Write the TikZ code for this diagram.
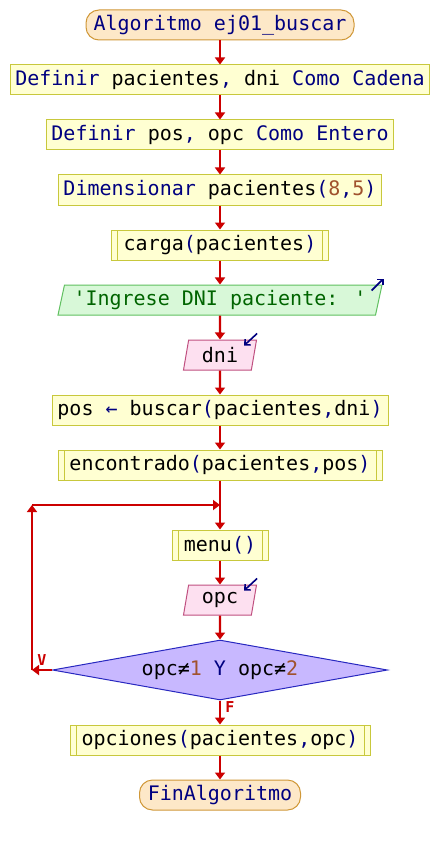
\documentclass[tikz,border=0pt]{standalone}
\usepackage{fontspec}
\newfontfamily\pf{DejaVu Sans Mono}
\usetikzlibrary{shapes.geometric,arrows.meta,calc}
\definecolor{kw}{HTML}{000080}
\definecolor{num}{HTML}{A0522D}
\definecolor{str}{HTML}{006400}
\definecolor{flow}{HTML}{CC0000}
\definecolor{procfill}{HTML}{FFFFD2}
\definecolor{procline}{HTML}{C8C83C}
\definecolor{termfill}{HTML}{FDE8C8}
\definecolor{termline}{HTML}{D09838}
\definecolor{outfill}{HTML}{D8F8D8}
\definecolor{outline}{HTML}{60C060}
\definecolor{infill}{HTML}{FDE0F0}
\definecolor{inline}{HTML}{C05080}
\definecolor{condfill}{HTML}{C8B8FF}
\definecolor{condline}{HTML}{2828C0}
\newcommand{\kwc}[1]{\textcolor{kw}{#1}}
\newcommand{\numc}[1]{\textcolor{num}{#1}}
\newcommand{\strc}[1]{\textcolor{str}{#1}}
\tikzset{
  base/.style={line width=1pt, minimum height=30pt, inner sep=0pt, text=black,
    font=\pf\fontsize{20}{20}\selectfont},
  proc/.style={base, draw=procline, fill=procfill, rectangle},
  sub/.style={proc, path picture={
    \draw[procline, line width=1pt]
      ([xshift=6pt]path picture bounding box.north west) -- ([xshift=6pt]path picture bounding box.south west)
      ([xshift=-6pt]path picture bounding box.north east) -- ([xshift=-6pt]path picture bounding box.south east);}},
  term/.style={base, draw=termline, fill=termfill, rectangle, rounded corners=13pt},
  para/.style={base, trapezium, trapezium left angle=71.6, trapezium right angle=108.4,
    trapezium stretches body},
  outp/.style={para, draw=outline, fill=outfill},
  inp/.style={para, draw=inline, fill=infill},
  cond/.style={base, diamond, aspect=5.58, draw=condline, fill=condfill, minimum height=60pt},
  flowline/.style={draw=flow, line width=2.2pt},
  flowarrow/.style={flowline, -{Triangle[width=10pt,length=7pt]}},
  ioarrow/.style={draw=kw, line width=1.6pt, -{Straight Barb[length=4pt,width=8pt]}},
  lbl/.style={text=flow, font=\pf\bfseries\fontsize{15}{15}\selectfont, inner sep=0pt}
}
\begin{document}
\begin{tikzpicture}[x=1pt,y=-1pt]
\useasboundingbox (0,0) rectangle (440,845);
\fill[white] (0,0) rectangle (440,845);
\node[term, minimum width=268pt] (start) at (220,25) {\kwc{Algoritmo ej01\_buscar}};
\node[proc, minimum width=419pt] (def1) at (220,80) {\kwc{Definir} pacientes\kwc{,} dni \kwc{Como Cadena}};
\node[proc, minimum width=347pt] (def2) at (220,135) {\kwc{Definir} pos\kwc{,} opc \kwc{Como Entero}};
\node[proc, minimum width=323pt] (dim) at (220,190) {\kwc{Dimensionar} pacientes\kwc{(}\numc{8}\kwc{,}\numc{5}\kwc{)}};
\node[sub, minimum width=217pt] (carga) at (220,245) {carga\kwc{(}pacientes\kwc{)}};
\node[outp, minimum width=324pt] (out) at (220,300) {\strc{'Ingrese DNI paciente: '}};
\node[inp, minimum width=73pt] (dni) at (220,355) {dni};
\node[proc, minimum width=336pt] (pos) at (220,410) {pos \kwc{←} buscar\kwc{(}pacientes\kwc{,}dni\kwc{)}};
\node[sub, minimum width=324pt] (enc) at (220,465) {encontrado\kwc{(}pacientes\kwc{,}pos\kwc{)}};
\node[sub, minimum width=96pt] (menu) at (220,545) {menu\kwc{()}};
\node[inp, minimum width=73pt] (opc) at (220,600) {opc};
\node[cond, minimum width=335pt] (cnd) at (220,670) {opc≠\numc{1} \kwc{Y} opc≠\numc{2}};
\node[sub, minimum width=300pt] (opcs) at (220,740) {opciones\kwc{(}pacientes\kwc{,}opc\kwc{)}};
\node[term, minimum width=161pt] (fin) at (220,795) {\kwc{FinAlgoritmo}};

\draw[ioarrow] ($(out.top right corner)+(-11,6)$) -- ($(out.top right corner)+(1,-6)$);
\draw[ioarrow] ($(dni.top right corner)+(0,-6)$) -- ($(dni.top right corner)+(-13,6)$);
\draw[ioarrow] ($(opc.top right corner)+(0,-6)$) -- ($(opc.top right corner)+(-13,6)$);

\draw[flowarrow] (start) -- (def1);
\draw[flowarrow] (def1) -- (def2);
\draw[flowarrow] (def2) -- (dim);
\draw[flowarrow] (dim) -- (carga);
\draw[flowarrow] (carga) -- (out);
\draw[flowarrow] (out) -- (dni);
\draw[flowarrow] (dni) -- (pos);
\draw[flowarrow] (pos) -- (enc);
\coordinate (j) at (220,505);
\coordinate (lb) at (32,670);
\coordinate (lt) at (32,505);
\draw[flowline] (enc) -- (j);
\draw[flowarrow] (j) -- (menu);
\draw[flowarrow] (menu) -- (opc);
\draw[flowarrow] (opc) -- (cnd);
\draw[flowarrow] (cnd.west) -- (lb);
\draw[flowarrow] (lb) -- (lt);
\draw[flowarrow] (lt) -- (j);
\draw[flowarrow] (cnd) -- (opcs);
\draw[flowarrow] (opcs) -- (fin);
\node[lbl] (v) at (42,660) {V};
\node[lbl] (f) at (230,707) {F};
\end{tikzpicture}
\end{document}
